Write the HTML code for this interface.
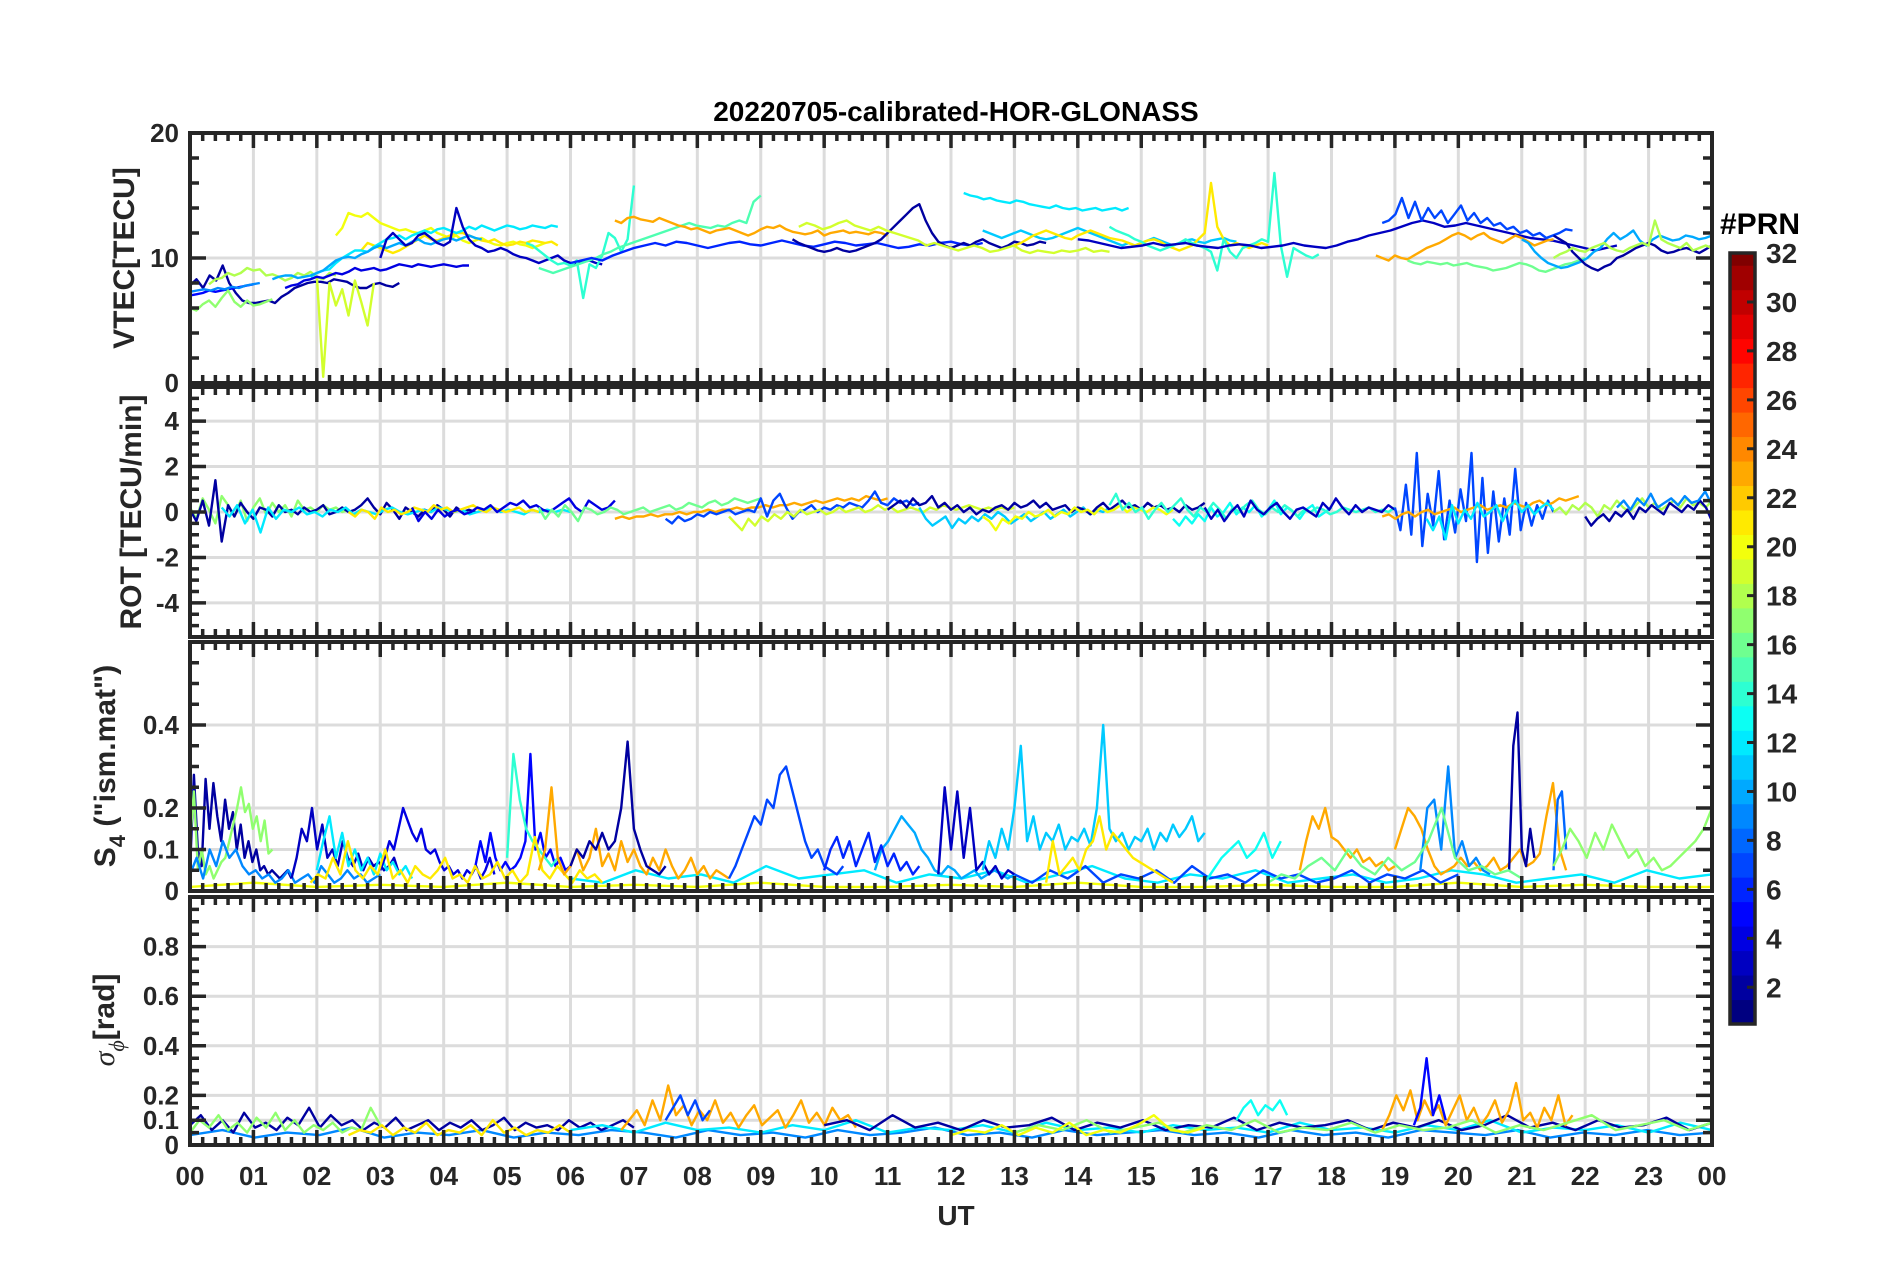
<!DOCTYPE html>
<html><head><meta charset="utf-8"><style>
html,body{margin:0;padding:0;background:#fff;}
svg{display:block;font-family:"Liberation Sans",Arial,sans-serif;font-weight:bold;}
</style></head><body>
<svg id="fig" width="1902" height="1272" viewBox="0 0 1902 1272" xmlns="http://www.w3.org/2000/svg">
<rect width="1902" height="1272" fill="#fff"/>
<text x="956" y="121" font-size="28" text-anchor="middle" fill="#000">20220705-calibrated-HOR-GLONASS</text>
<g id="panels"></g>
<text x="956" y="1225" font-size="28" text-anchor="middle" fill="#262626">UT</text>
<text transform="translate(134,258) rotate(-90)" font-size="30" text-anchor="middle" fill="#262626">VTEC[TECU]</text>
<text transform="translate(141,512) rotate(-90)" font-size="30" text-anchor="middle" fill="#262626">ROT [TECU/min]</text>
<text transform="translate(115,766) rotate(-90)" font-size="30" text-anchor="middle" fill="#262626">S<tspan font-size="22" dy="10">4</tspan><tspan dy="-10"> ("ism.mat")</tspan></text>
<text transform="translate(114,1020) rotate(-90)" font-size="30" text-anchor="middle" fill="#262626"><tspan font-family="Liberation Serif" font-style="italic" font-weight="normal">σ</tspan><tspan font-size="22" dy="10" font-family="Liberation Serif" font-style="italic" font-weight="normal">ϕ</tspan><tspan dy="-10">[rad]</tspan></text>
<g id="cbar"></g>
<text x="1720" y="234" font-size="30" fill="#000">#PRN</text>
</svg>
<script>
const hourTicks=["00","01","02","03","04","05","06","07","08","09","10","11","12","13","14","15","16","17","18","19","20","21","22","23","00"];
const cbarTicks=[2,4,6,8,10,12,14,16,18,20,22,24,26,28,30,32];
const vtecTicks=[0,10,20];
const rotTicks=[-4,-2,0,2,4];
const s4Ticks=[0,0.1,0.2,0.4];
const sigTicks=[0,0.1,0.2,0.4,0.6,0.8];

const vtecPrn=[2,5,9,17,18,19,20,21,12,10,4,3,14,15,23,6,2,19,12,11,21,14,3,7,23,16,10,2,18];
const vtecStart=[0,0,0,0,0.3,2.0,2.3,2.7,1.9,1.3,1.5,3.0,5.3,5.5,6.7,6.0,9.5,9.6,12.2,12.5,13.0,14.5,14.0,18.8,18.7,19.2,21.0,21.5,21.5];
const vtecEnd=[3.3,1.0,1.1,1.3,2.3,2.9,5.6,5.8,5.8,4.6,4.4,6.5,7.0,9.0,11.0,12.5,13.5,14.5,14.8,16.5,17.0,17.8,22.5,21.8,21.5,22.0,24,24,24];
const vtecVals=[
[7.8,8.3,7.6,8.6,8.2,9.4,8,7.2,6.6,6.4,6.4,6.5,6.6,6.4,6.9,7.2,7.6,7.8,8,8.1,8.1,8,8.3,8.2,8.1,7.8,7.6,7.6,7.9,8.0,7.8,7.7,8.0],
[7,7.1,7.2,7.4,7.3,7.4,7.5,7.6,7.7,7.8,7.9],
[7.3,7.4,7.5,7.4,7.6,7.5,7.7,7.6,7.8,7.9,8],
[6,5.8,6.3,6.6,6.1,6.8,7.4,6.5,6.1,6.6,6.2,6.3,6.5,6.7],
[7.9,8.3,8.4,8.8,8.6,8.8,9.2,9.0,9.1,8.6,8.7,8.5,8.2,8.4,8.8,8.6,8.9,8.5,8.3,8.8,8.6],
[8.6,0.5,8.0,6.2,7.5,5.4,8.2,6.5,4.6,8.0],
[11.8,12.4,13.6,13.4,13.3,13.6,13.2,12.8,12.6,12.4,12.2,12.3,12.1,12,12.2,12.4,12,11.8,11.6,11.8,11.4,11.2,11.4,11.6,11.3,11.1,11.0,11.2,11.3,11.1,11.0,10.8,11.0,11.2],
[10.6,11.2,11.0,10.8,10.6,10.4,10.6,10.9,11.2,11.5,11.8,11.5,11.4,11.6,11.8,12,12,11.8,11.6,11.4,11.3,11.5,11.2,11.0,11.1,11.3,11.2,11.4,11.3,11.2,11.3,11.0],
[8.5,8.8,9.0,9.1,9.6,10,10.3,10.6,10.6,10.5,10.9,11.2,11.5,11.6,11.8,11.5,11.8,12.0,12.2,12.0,12.3,12.4,12.2,12.0,12.2,12.5,12.3,12.6,12.4,12.2,12.4,12.6,12.5,12.3,12.4,12.6,12.5,12.4,12.6,12.5],
[8.3,8.5,8.6,8.6,8.4,8.5,8.6,8.8,9,9.4,9.8,10,10.1,10,10.3,10.5,10.8,11,10.8,11.0,11.2,11.0,11.3,11.5,11.2,11.1,11.3,11.5,11.6,11.4,11.6,11.8,11.6,11.5],
[7.6,7.8,7.9,8.2,8.3,8.5,8.4,8.6,8.8,8.7,8.9,9.2,9.0,9.1,9.2,9.0,9.1,9.3,9.5,9.4,9.3,9.5,9.4,9.3,9.4,9.5,9.4,9.3,9.4,9.4],
[10,11.5,12,11.5,11,11.2,11.8,12,11.6,11.2,11,11.3,14,12.5,11.5,11,10.8,10.5,10.6,10.8,10.6,10.3,10.1,10,9.8,9.6,9.8,10.0,10.2,9.8,9.6,9.5,9.7,9.8,9.6,9.5],
[11.2,11.0,10.6,10.2,9.8,9.5,9.6,9.4,9.8,6.8,9.5,9.2,10.2,12.0,11.6,10.5,11.5,15.8],
[9.2,9.0,8.8,9.0,9.2,9.4,9.6,9.8,10.0,10.3,10.5,10.8,11.0,11.2,11.4,11.6,11.8,12.0,12.2,12.4,12.6,12.8,12.6,12.5,12.4,12.6,12.5,12.8,13.0,12.8,14.5,15],
[13,12.8,13.2,13.3,13.1,13.0,12.9,13.2,13.0,12.8,12.6,12.5,12.3,12.4,12.2,12.0,12.2,12.3,12.4,12.2,12.0,11.8,12.0,12.3,12.5,12.4,12.6,12.3,12.1,12.0,11.9,12.0,12.2,11.8,12.0,12.1,12.2,12.0,12.1,12.0,11.9,12.1,12.0,11.8],
[9.6,9.8,10.0,9.8,10.2,10.5,10.8,11.0,11.2,11.0,11.3,11.2,11.0,10.8,11.0,11.2,11.3,11.1,11.0,11.2,11.4,11.2,11.0,10.9,11.1,11.3,11.2,11.0,11.1,11.2,11.0,10.8,10.9,11.1,11.0,11.2,11.3,11.1,11.0,11.2],
[11.5,11.2,11.0,10.8,10.6,10.5,10.6,10.8,10.6,10.5,10.6,10.8,11,11.2,11.5,12,12.5,13,13.5,14,14.3,13.0,12.0,11.3,11,10.8,11.0,11.2,11.0,11.3,11.5,11.2,11.0,10.8,11.0,11.3,11.2,11.0,11.1,11.3,11.2],
[12.5,12.8,12.6,12.3,12.5,12.8,13.0,12.6,12.4,12.2,12.5,12.2,12.0,11.8,11.6,11.4,11.0,11.2,11.0,10.8,10.6,10.8,11.0,10.8,10.5,10.6,10.8,11.0,10.6,10.4,10.6,10.5,10.4,10.6,10.5,10.6,10.8,10.5,10.6,10.5],
[15.2,15.0,14.9,14.7,14.8,14.6,14.5,14.4,14.6,14.5,14.3,14.2,14.1,14.0,14.2,14.0,13.9,14.0,13.8,13.9,14.0,13.8,13.9,14.0,13.8,14.0],
[12.2,12.0,11.8,11.6,11.8,12.0,12.2,12.0,11.8,11.6,11.5,11.6,11.8,12.0,12.2,12.4,12.2,12.0,11.8,11.6,11.4,11.2,11.0,11.2,11.0,11.2,11.4,11.6,11.4,11.2,11.0,11.2,11.4,11.5,11.3,11.2,11.4,11.5,11.6,11.4,11.3],
[11.0,11.2,11.5,11.8,12.0,12.2,12.0,11.8,11.6,11.5,11.8,12.0,12.2,12.0,11.8,11.6,11.5,11.4,11.2,11.0,11.2,11.4,11.5,11.3,11.0,10.8,10.6,10.8,11.0,11.5,12.0,16,12.5,11.5,11.0,11.2,11.0,10.8,11.0,11.2,11.0],
[12.5,12.2,12.0,11.8,11.5,11.3,11.0,10.8,10.6,10.8,11,11.2,11.5,11.2,11,10.8,10.5,9.0,11.5,10.5,10.0,10.8,11.0,11.2,11.5,11.3,16.8,11.0,8.5,10.8,10.5,10.2,10.0,10.3],
[11.5,11.4,11.2,11.0,10.8,10.9,11.0,11.2,11.0,11.1,11.2,11.0,10.9,10.8,11.0,11.1,11.0,10.8,10.9,11.0,11.2,11.0,10.9,10.8,11.0,11.3,11.5,11.8,12.0,12.2,12.5,12.8,13.0,12.8,12.5,12.6,12.8,12.6,12.4,12.2,12.0,11.8,11.6,11.5,11.4,11.2,11.0,10.8,10.6,10.8,11.0],
[12.8,13.0,13.5,14.8,13.2,14.5,13.0,14.0,13.2,13.8,12.8,13.5,14.2,13.0,13.6,12.8,13.2,12.6,12.8,12.3,12.5,12.0,12.2,11.8,12.0,11.6,11.8,12.0,12.3,12.2],
[10.2,10.0,9.8,10.2,10.0,9.9,10.2,10.5,10.8,11.0,11.2,11.5,11.8,12.0,11.8,11.5,11.8,12.0,11.6,11.4,11.2,11.5,11.8,11.6,11.3,11.0,11.2,11.4,11.5],
[9.8,9.6,9.5,9.7,9.6,9.5,9.6,9.4,9.5,9.6,9.4,9.3,9.2,9.0,9.1,9.2,9.4,9.6,9.5,9.3,9.0,8.9,9.1,9.3,9.5,9.6,9.8,10],
[11.5,11.2,10.5,10.0,9.6,9.4,9.2,9.3,9.5,9.7,10.0,10.5,10.8,11.5,12.0,11.5,11.8,12.2,11.4,11.0,11.5,11.8,11.6,11.4,11.5,11.8,11.7,11.5,11.6,11.8],
[11.8,11.5,11.2,10.5,10.0,9.5,9.2,9.0,9.3,9.5,10.0,10.2,10.5,10.8,11.0,11.2,11.0,10.6,10.4,10.5,10.7,10.8,10.6,10.4,10.7,11.0],
[10.0,10.3,10.5,10.8,10.6,10.5,10.8,11.0,11.2,10.8,10.6,10.5,10.8,11.0,11.2,11.0,13.0,11.5,11.2,11.0,10.8,11.2,10.6,10.8,11.0,10.8]
];

const rotPrn=[17,2,12,21,4,23,16,7,19,11,2,20,13,14,3,7,23,12,18,2,9];
const rotStart=[0,0,0.5,2.5,3.5,6.7,5.5,7.5,8.5,11.5,11.0,12.5,15.5,14.5,16,19.0,18.8,19.5,21.5,22,22.5];
const rotEnd=[2.5,4.5,6,5.5,6.7,11,9,11.5,13,14.5,16,15.5,18,19,19,21.5,21.9,21.5,24,24,24];
const rotVals=[
[0.2,-0.3,0.6,0.1,-0.5,0.7,0.3,-0.2,0.5,-0.4,0.2,0.6,-0.1,0.4,0.0,0.3,-0.2,0.5,0.1,0.2,0.0,0.3,0.1,0.2,0.0,0.1],
[0.1,-0.4,0.5,-0.6,1.4,-1.3,0.3,-0.2,0.4,0.0,-0.3,0.2,0.1,-0.2,0.3,0.0,0.1,-0.1,0.2,0.0,0.1,0.3,-0.1,0.0,0.2,0.0,0.1,0.3,0.6,0.2,-0.1,0.4,0.1,-0.3,0.2,0.0,-0.2,0.1,0.0,0.3,0.1,-0.2,0.2,0.0,0.1,0.0],
[0.2,-0.2,0.3,-0.5,0.1,-0.9,0.2,-0.3,0.1,0.0,0.2,-0.1,0.0,-0.2,0.1,0.0,0.2,-0.1,0.1,0.0,-0.1,0.1,0.2,0.0,-0.1,0.0,0.1,0.0,0.2,0.1,0.0,0.1,-0.1,0.0,0.1,0.2,0.0,0.1,0.0,-0.1,0.1,0.0,0.1,0.0,0.1,0.0],
[0.0,-0.2,0.1,0.0,-0.3,0.2,0.0,0.1,-0.1,0.0,0.2,0.1,0.0,0.3,0.1,0.2,0.0,0.1,0.2,0.3,0.1,0.0,0.2,0.1,0.0,0.1,0.2,0.0,0.1,0.0],
[0.2,-0.4,0.0,-0.3,0.1,-0.2,0.0,0.1,-0.1,0.0,0.2,0.1,0.3,0.0,0.2,0.4,0.3,0.5,0.2,0.3,0.1,0.0,0.2,0.4,0.6,0.2,0.0,0.5,0.3,0.1,0.2,0.5],
[-0.3,-0.2,-0.3,-0.2,-0.2,-0.1,-0.2,-0.1,-0.1,0.0,-0.1,0.0,0.0,0.1,0.0,0.1,0.1,0.2,0.1,0.2,0.2,0.3,0.2,0.3,0.3,0.4,0.3,0.4,0.5,0.4,0.5,0.6,0.5,0.6,0.5,0.7,0.6,0.5,0.6],
[0.2,-0.3,0.1,-0.2,0.3,0.0,-0.4,0.2,0.1,-0.1,0.0,0.2,0.1,-0.1,0.0,0.1,0.2,0.0,0.1,0.2,0.3,0.1,0.2,0.4,0.3,0.2,0.4,0.5,0.3,0.4,0.6,0.5,0.4,0.5,0.6],
[-0.3,-0.5,-0.2,-0.4,-0.3,-0.1,-0.2,0.0,-0.1,0.0,0.1,-0.1,0.0,0.1,0.0,0.6,-0.2,0.5,0.8,0.2,-0.3,0.0,0.1,0.3,0.0,0.2,0.1,0.3,0.2,0.4,0.3,0.2,0.5,0.9,0.4,0.3,0.6,0.4,0.5,0.3,0.4],
[-0.2,-0.5,-0.8,-0.3,-0.6,-0.2,-0.4,-0.1,-0.3,0.0,-0.2,0.1,-0.1,0.0,0.1,-0.1,0.0,0.2,0.0,0.1,0.2,0.0,0.1,0.3,0.1,0.2,0.0,0.1,0.2,0.1,0.0,0.2,0.1,0.3,0.2,0.1,0.2,0.3,0.2,0.1,0.2,0.1,0.2,0.1,0.2],
[0.2,-0.3,-0.6,-0.4,-0.2,-0.7,-0.3,-0.5,-0.2,-0.4,-0.1,-0.3,0.0,-0.2,-0.5,-0.3,-0.1,-0.4,-0.2,0.0,-0.3,-0.1,0.1,-0.2,0.0,0.2,-0.1,0.1,0.0,0.2],
[0.1,0.3,0.5,0.2,0.6,0.3,0.4,0.7,0.2,0.4,0.1,0.3,0.0,0.2,-0.1,0.1,0.0,0.2,0.3,0.1,0.4,0.2,0.3,0.5,0.2,0.4,0.1,0.2,0.3,0.0,0.2,0.1,-0.1,0.2,0.4,0.1,0.3,0.5,0.2,0.3,0.1,0.4,0.2,0.3,0.1,0.2,0.0,0.3,0.1,0.2,0.4],
[-0.2,-0.4,-0.8,-0.3,-0.5,-0.2,-0.3,0.0,-0.2,-0.1,0.1,-0.2,0.0,-0.1,0.2,0.0,0.1,-0.1,0.2,0.0,0.1,0.3,0.0,0.2,0.1,0.0,0.2,0.1,-0.1,0.1],
[-0.3,-0.6,-0.2,-0.5,-0.1,-0.4,0.2,-0.2,0.0,0.4,-0.1,0.2,0.0,0.3,-0.2,0.1,0.5,-0.1,0.2,0.0,-0.3,0.1,0.3,-0.2,0.0,0.2],
[0.3,0.8,0.1,0.4,0.0,0.2,-0.3,0.1,0.4,0.0,0.3,0.6,0.1,-0.2,0.2,0.0,0.4,0.1,-0.3,0.2,0.0,0.3,0.5,0.1,-0.1,0.2,0.0,0.3,0.1,-0.2,0.1,0.0,0.2,0.1,-0.1,0.0,0.2,0.1,0.0,0.1,0.2,0.0,0.1,0.0,0.2],
[0.2,-0.3,0.1,-0.4,0.0,0.3,-0.2,0.5,0.1,-0.1,0.2,0.4,0.0,-0.3,0.1,0.2,0.0,-0.2,0.4,0.1,0.6,0.2,-0.1,0.3,0.0,0.2,0.1,0.0,0.3,0.1],
[0.2,-0.8,1.2,-1.0,2.6,-1.5,0.8,-0.6,1.8,-1.2,0.5,-0.9,1.0,-0.4,2.6,-2.2,1.5,-1.8,0.9,-1.3,0.6,-1.0,1.9,-0.8,0.4,-0.6,0.3,-0.3,0.5,0.0],
[-0.2,-0.1,-0.3,-0.1,0.0,-0.2,0.0,0.1,-0.1,0.0,0.1,0.2,0.0,0.1,0.2,0.3,0.1,0.2,0.3,0.2,0.4,0.3,0.2,0.4,0.5,0.3,0.4,0.6,0.5,0.6,0.7],
[-0.3,-0.8,-0.2,-1.2,0.3,-0.5,0.1,-0.3,0.4,-0.2,0.0,0.3,-0.4,0.2,0.5,0.0,0.3,-0.1,0.2,0.4,0.1],
[0.0,0.2,-0.1,0.3,0.1,0.4,0.2,-0.2,0.3,0.1,0.5,0.2,0.0,0.3,0.6,0.2,0.4,0.1,0.3,0.5,0.2,0.6,0.3,0.4,0.2,0.5],
[-0.2,-0.6,-0.3,-0.1,-0.4,0.0,-0.2,0.1,-0.3,0.2,0.0,0.3,0.1,-0.1,0.4,0.2,0.0,0.3,0.1,0.5,0.2,-0.4],
[0.2,0.5,0.1,0.6,0.3,0.8,0.2,0.4,0.6,0.3,0.7,0.4,0.5,0.9,0.3]
];

const s4Prn=[20,12,7,2,17,9,3,12,4,5,14,21,23,2,7,10,6,3,11,21,13,23,23,9,2,8,17,16];
const s4Start=[0,6,13,0,0,0,1.6,2.0,3.0,4.5,5.0,1.9,5.5,6.0,8.5,10.8,10.0,11.8,12.5,13.5,16,17.5,19,19.4,20.8,21.5,21.5,17];
const s4End=[24,24,20,1.6,1.3,3,3.3,3.5,4.8,6.0,5.8,6.5,8.5,7.5,10.3,13,11.5,13,16,15.5,17.2,19,21.7,20.5,21.2,21.7,24,21];
const s4Vals=[
[0.01,0.02,0.01,0.015,0.01,0.02,0.01,0.015,0.01,0.02,0.01,0.01,0.015,0.01,0.02,0.01,0.01,0.015,0.01,0.01,0.02,0.01,0.015,0.01,0.01],
[0.03,0.02,0.05,0.03,0.04,0.02,0.06,0.03,0.04,0.05,0.02,0.04,0.03,0.05,0.02,0.04,0.06,0.03,0.02,0.04,0.03,0.05,0.02,0.03,0.04,0.02,0.03,0.05,0.04,0.02,0.03,0.04,0.02,0.05,0.03,0.04],
[0.04,0.02,0.05,0.03,0.06,0.02,0.04,0.03,0.05,0.02,0.06,0.03,0.04,0.02,0.05,0.03,0.04,0.02,0.03,0.05,0.02,0.04,0.03,0.05,0.02,0.04],
[0.05,0.28,0.1,0.06,0.27,0.15,0.26,0.18,0.12,0.22,0.15,0.19,0.1,0.16,0.08,0.12,0.07,0.1,0.05,0.06,0.04,0.05,0.04,0.03,0.04,0.05,0.03],
[0.12,0.24,0.05,0.1,0.04,0.06,0.03,0.05,0.07,0.08,0.12,0.16,0.2,0.25,0.19,0.21,0.15,0.18,0.12,0.17,0.09,0.1],
[0.04,0.08,0.03,0.1,0.06,0.12,0.08,0.1,0.06,0.04,0.05,0.03,0.04,0.02,0.03,0.05,0.02,0.03,0.04,0.02,0.06,0.04,0.02,0.03,0.05,0.03,0.04,0.02,0.03,0.04],
[0.03,0.08,0.15,0.12,0.2,0.1,0.16,0.08,0.1,0.06,0.12,0.08,0.06,0.09,0.05,0.08,0.06,0.07,0.05,0.06,0.08,0.04],
[0.05,0.12,0.18,0.08,0.14,0.06,0.1,0.05,0.08,0.04,0.09,0.05,0.07,0.04,0.06,0.03],
[0.05,0.08,0.12,0.1,0.15,0.2,0.17,0.14,0.12,0.15,0.1,0.09,0.1,0.07,0.05,0.06,0.04,0.05,0.03,0.05,0.04,0.06,0.03,0.05,0.08,0.04],
[0.06,0.12,0.07,0.14,0.08,0.05,0.07,0.05,0.06,0.08,0.12,0.33,0.1,0.14,0.08,0.1,0.06,0.08,0.05,0.06],
[0.08,0.33,0.22,0.15,0.12,0.1,0.08,0.06,0.08],
[0.02,0.04,0.03,0.08,0.04,0.12,0.05,0.03,0.06,0.04,0.1,0.03,0.05,0.02,0.06,0.04,0.03,0.05,0.08,0.03,0.04,0.02,0.06,0.03,0.04,0.07,0.03,0.05,0.02,0.04,0.13,0.05,0.03,0.06,0.04,0.02,0.05,0.03,0.04,0.02],
[0.05,0.1,0.25,0.08,0.04,0.06,0.1,0.05,0.08,0.15,0.06,0.09,0.05,0.12,0.07,0.1,0.06,0.04,0.08,0.05,0.1,0.06,0.03,0.05,0.08,0.04,0.06,0.03,0.05,0.04,0.03],
[0.06,0.1,0.08,0.12,0.1,0.14,0.1,0.12,0.2,0.36,0.15,0.1,0.06,0.05,0.04,0.06],
[0.03,0.06,0.1,0.14,0.18,0.16,0.22,0.2,0.28,0.3,0.24,0.18,0.12,0.08,0.1,0.06,0.05,0.04,0.06],
[0.05,0.1,0.12,0.15,0.18,0.16,0.14,0.1,0.08,0.05,0.04,0.06,0.05,0.03,0.04,0.05,0.03,0.04,0.05,0.04,0.03,0.04],
[0.05,0.1,0.13,0.08,0.12,0.06,0.1,0.14,0.07,0.11,0.06,0.09,0.05,0.07,0.04,0.06],
[0.04,0.25,0.1,0.24,0.08,0.2,0.05,0.07,0.04,0.06,0.03,0.05,0.04],
[0.05,0.12,0.08,0.15,0.1,0.2,0.35,0.12,0.18,0.1,0.14,0.12,0.16,0.1,0.13,0.12,0.15,0.11,0.2,0.4,0.15,0.12,0.14,0.1,0.13,0.12,0.15,0.1,0.14,0.12,0.16,0.13,0.15,0.18,0.12,0.14],
[0.02,0.12,0.04,0.06,0.08,0.05,0.1,0.12,0.18,0.1,0.14,0.12,0.1,0.08,0.07,0.06,0.05,0.04,0.03,0.02],
[0.02,0.05,0.08,0.1,0.12,0.08,0.1,0.14,0.08,0.12],
[0.05,0.12,0.18,0.15,0.2,0.13,0.12,0.1,0.08,0.1,0.07,0.08,0.06,0.07,0.05,0.06],
[0.1,0.15,0.2,0.18,0.15,0.1,0.06,0.04,0.05,0.06,0.08,0.06,0.07,0.05,0.06,0.08,0.05,0.06,0.08,0.1,0.06,0.07,0.09,0.18,0.26,0.1,0.05],
[0.05,0.2,0.22,0.1,0.3,0.08,0.12,0.06,0.08,0.05,0.04],
[0.05,0.35,0.43,0.1,0.06,0.15,0.08],
[0.05,0.22,0.24,0.1],
[0.06,0.1,0.15,0.12,0.08,0.14,0.1,0.16,0.12,0.08,0.1,0.06,0.08,0.05,0.06,0.08,0.1,0.12,0.15,0.2],
[0.02,0.04,0.03,0.06,0.08,0.05,0.1,0.06,0.04,0.08,0.05,0.07,0.12,0.2,0.08,0.05,0.06,0.04,0.05,0.03]
];

const sigPrn=[9,2,17,21,12,23,7,2,13,23,5,17,20];
const sigStart=[0,0,0,2.5,6,6.8,7.5,10,16.5,18.8,19.3,13,12];
const sigEnd=[24,7,3,6,24,10.5,8.2,24,17.3,21.8,19.8,24,16];
const sigVals=[
[0.04,0.06,0.03,0.05,0.04,0.07,0.03,0.05,0.04,0.06,0.03,0.05,0.04,0.06,0.05,0.03,0.06,0.04,0.05,0.03,0.06,0.04,0.05,0.07,0.04,0.05,0.03,0.06,0.04,0.05,0.06,0.04,0.05,0.03,0.06,0.04,0.05,0.03,0.06,0.05,0.04,0.06,0.03,0.05,0.04,0.06,0.04,0.05],
[0.08,0.12,0.06,0.1,0.05,0.13,0.07,0.09,0.06,0.11,0.08,0.15,0.07,0.12,0.08,0.1,0.06,0.09,0.07,0.11,0.06,0.08,0.1,0.06,0.09,0.07,0.1,0.06,0.08,0.11,0.06,0.09,0.07,0.08,0.06,0.1,0.07,0.09,0.06,0.08,0.1,0.07],
[0.05,0.1,0.07,0.12,0.06,0.09,0.05,0.11,0.07,0.13,0.06,0.1,0.05,0.08,0.06,0.09,0.05,0.07,0.06,0.15,0.08],
[0.04,0.06,0.05,0.08,0.04,0.07,0.05,0.09,0.04,0.06,0.05,0.08,0.04,0.1,0.05,0.07,0.04,0.06,0.05,0.08,0.05],
[0.06,0.08,0.05,0.09,0.06,0.07,0.05,0.08,0.06,0.1,0.05,0.07,0.06,0.08,0.05,0.09,0.06,0.07,0.05,0.08,0.06,0.07,0.05,0.09,0.06,0.07,0.05,0.08,0.06,0.1,0.05,0.07,0.06,0.08,0.05,0.09,0.06],
[0.06,0.1,0.14,0.08,0.18,0.1,0.24,0.12,0.16,0.08,0.14,0.1,0.18,0.09,0.13,0.07,0.12,0.16,0.08,0.11,0.14,0.07,0.12,0.18,0.09,0.13,0.08,0.15,0.1,0.12,0.07],
[0.1,0.15,0.2,0.12,0.18,0.1,0.14],
[0.08,0.1,0.06,0.12,0.07,0.09,0.06,0.1,0.07,0.08,0.11,0.06,0.09,0.07,0.1,0.06,0.08,0.07,0.11,0.06,0.09,0.07,0.08,0.1,0.06,0.09,0.07,0.1,0.06,0.08,0.12,0.07,0.09,0.06,0.1,0.07,0.08,0.11,0.06,0.09],
[0.1,0.15,0.18,0.12,0.16,0.14,0.18,0.12],
[0.06,0.12,0.2,0.14,0.22,0.1,0.18,0.12,0.16,0.08,0.14,0.2,0.1,0.15,0.08,0.12,0.18,0.09,0.14,0.25,0.1,0.13,0.07,0.15,0.1,0.2,0.08,0.12],
[0.08,0.15,0.35,0.12,0.2,0.1],
[0.05,0.08,0.06,0.1,0.05,0.07,0.09,0.05,0.08,0.06,0.1,0.05,0.07,0.06,0.09,0.05,0.08,0.06,0.07,0.1,0.05,0.08,0.06,0.09,0.12,0.06,0.08,0.1,0.06,0.09],
[0.04,0.06,0.05,0.08,0.04,0.07,0.05,0.09,0.04,0.06,0.05,0.08,0.12,0.06,0.05,0.07]
];

const NS="http://www.w3.org/2000/svg";
const X0=190,X1=1712;
const xScale=h=>X0+h*(X1-X0)/24;
function jet(k){
  const x=(k-1)/31;
  const c=v=>Math.round(255*Math.max(0,Math.min(1,v)));
  return `rgb(${c(1.5-Math.abs(4*x-3))},${c(1.5-Math.abs(4*x-2))},${c(1.5-Math.abs(4*x-1))})`;
}
function mk(tag,attrs,parent){const e=document.createElementNS(NS,tag);for(const k in attrs)e.setAttribute(k,attrs[k]);parent.appendChild(e);return e;}
const panelsG=document.getElementById('panels');
const AX="#262626";
const panels=[
 {name:'vtec',top:133,bot:383,min:0,max:20,ticks:vtecTicks,grid:[10],minor:2,prn:vtecPrn,st:vtecStart,en:vtecEnd,vals:vtecVals,fmt:v=>String(v)},
 {name:'rot',top:387,bot:637,min:-5.5,max:5.5,ticks:rotTicks,grid:rotTicks,minor:0.5,prn:rotPrn,st:rotStart,en:rotEnd,vals:rotVals,fmt:v=>String(v)},
 {name:'s4',top:642,bot:891,min:0,max:0.6,ticks:s4Ticks,grid:[0.1,0.2,0.4],minor:0.05,prn:s4Prn,st:s4Start,en:s4End,vals:s4Vals,fmt:v=>String(v)},
 {name:'sigma',top:897,bot:1145,min:0,max:1,ticks:sigTicks,grid:[0.1,0.2,0.4,0.6,0.8],minor:0.05,prn:sigPrn,st:sigStart,en:sigEnd,vals:sigVals,fmt:v=>String(v)}
];
panels.forEach((p,pi)=>{
  const y=v=>p.bot-(v-p.min)/(p.max-p.min)*(p.bot-p.top);
  const g=mk('g',{},panelsG);
  
  
  const cid='clip'+pi;
  const cp=mk('clipPath',{id:cid},g);
  mk('rect',{x:X0,y:p.top,width:X1-X0,height:p.bot-p.top},cp);
  for(let h=1;h<24;h++){
    const l=mk('line',{x1:xScale(h),x2:xScale(h),y1:p.top,y2:p.bot,stroke:'#dcdcdc','stroke-width':3},g);
    
    
  }
  p.grid.forEach(v=>{
    const l=mk('line',{x1:X0,x2:X1,y1:y(v),y2:y(v),stroke:'#dcdcdc','stroke-width':3},g);
    
    
  });
  const dg=mk('g',{'clip-path':`url(#${cid})`},g);
  p.vals.forEach((vals,i)=>{
    const n=vals.length,t0=p.st[i],t1=p.en[i];
    const pts=vals.map((v,j)=>xScale(t0+(t1-t0)*j/(n-1)).toFixed(1)+','+y(v).toFixed(1)).join(' ');
    const pl=mk('polyline',{points:pts,fill:'none',stroke:jet(p.prn[i]),'stroke-width':2.4,'stroke-linejoin':'round'},dg);
    
    
  });
  let tk='';
  for(let h=0;h<=24;h+=0.2){
    const hh=Math.round(h*5)/5, X=xScale(hh), major=Math.abs(hh-Math.round(hh))<1e-6;
    const L=major?15:8;
    tk+=`M${X},${p.top}v${L}M${X},${p.bot}v${-L}`;
  }
  const eps=1e-6;
  for(let v=p.min;v<=p.max+eps;v+=p.minor){
    const vv=Math.round(v/p.minor)*p.minor;
    if(vv<p.min-eps||vv>p.max+eps)continue;
    const major=p.ticks.some(t=>Math.abs(t-vv)<eps);
    const L=major?16:9;
    tk+=`M${X0},${y(vv)}h${L}M${X1},${y(vv)}h${-L}`;
  }
  const tp=mk('path',{d:tk,stroke:AX,'stroke-width':3.5,fill:'none'},g);
  
  
  const box=mk('rect',{x:X0,y:p.top,width:X1-X0,height:p.bot-p.top,fill:'none',stroke:AX,'stroke-width':4},g);
  
  
  p.ticks.forEach(v=>{
    const t=mk('text',{x:179,y:y(v)+9,'font-size':26,'text-anchor':'end',fill:AX},g);
    t.textContent=p.fmt(v);
    
    
  });
  if(pi===3){
    hourTicks.forEach((lab,h)=>{
      const t=mk('text',{x:xScale(h),y:1185,'font-size':26,'text-anchor':'middle',fill:AX},g);
      t.textContent=lab;
      
      
    });
  }
});
const cb=document.getElementById('cbar');


const CT=253,CB=1024,CMAX=32,CMIN=0.5,CX=1730,CW=25;
const cy=v=>CB-(v-CMIN)/(CMAX-CMIN)*(CB-CT);
for(let k=1;k<=32;k++){
  const a=Math.min(CMAX,k+0.5),b=Math.max(CMIN,k-0.5);
  const r=mk('rect',{x:CX,y:cy(a),width:CW,height:cy(b)-cy(a)+0.5,fill:jet(k)},cb);
  
  
}
let ctd='';
cbarTicks.forEach(v=>{ if(v<CMAX) ctd+=`M${CX+CW},${cy(v)}h-8`; });
mk('path',{d:ctd,stroke:AX,'stroke-width':3},cb);
const cbox=mk('rect',{x:CX,y:CT,width:CW,height:CB-CT,fill:'none',stroke:AX,'stroke-width':3.5},cb);


cbarTicks.forEach(v=>{
  const t=mk('text',{x:1766,y:cy(v)+10,'font-size':28,fill:AX},cb);
  t.textContent=String(v);
  
  
});
</script>
</body></html>
